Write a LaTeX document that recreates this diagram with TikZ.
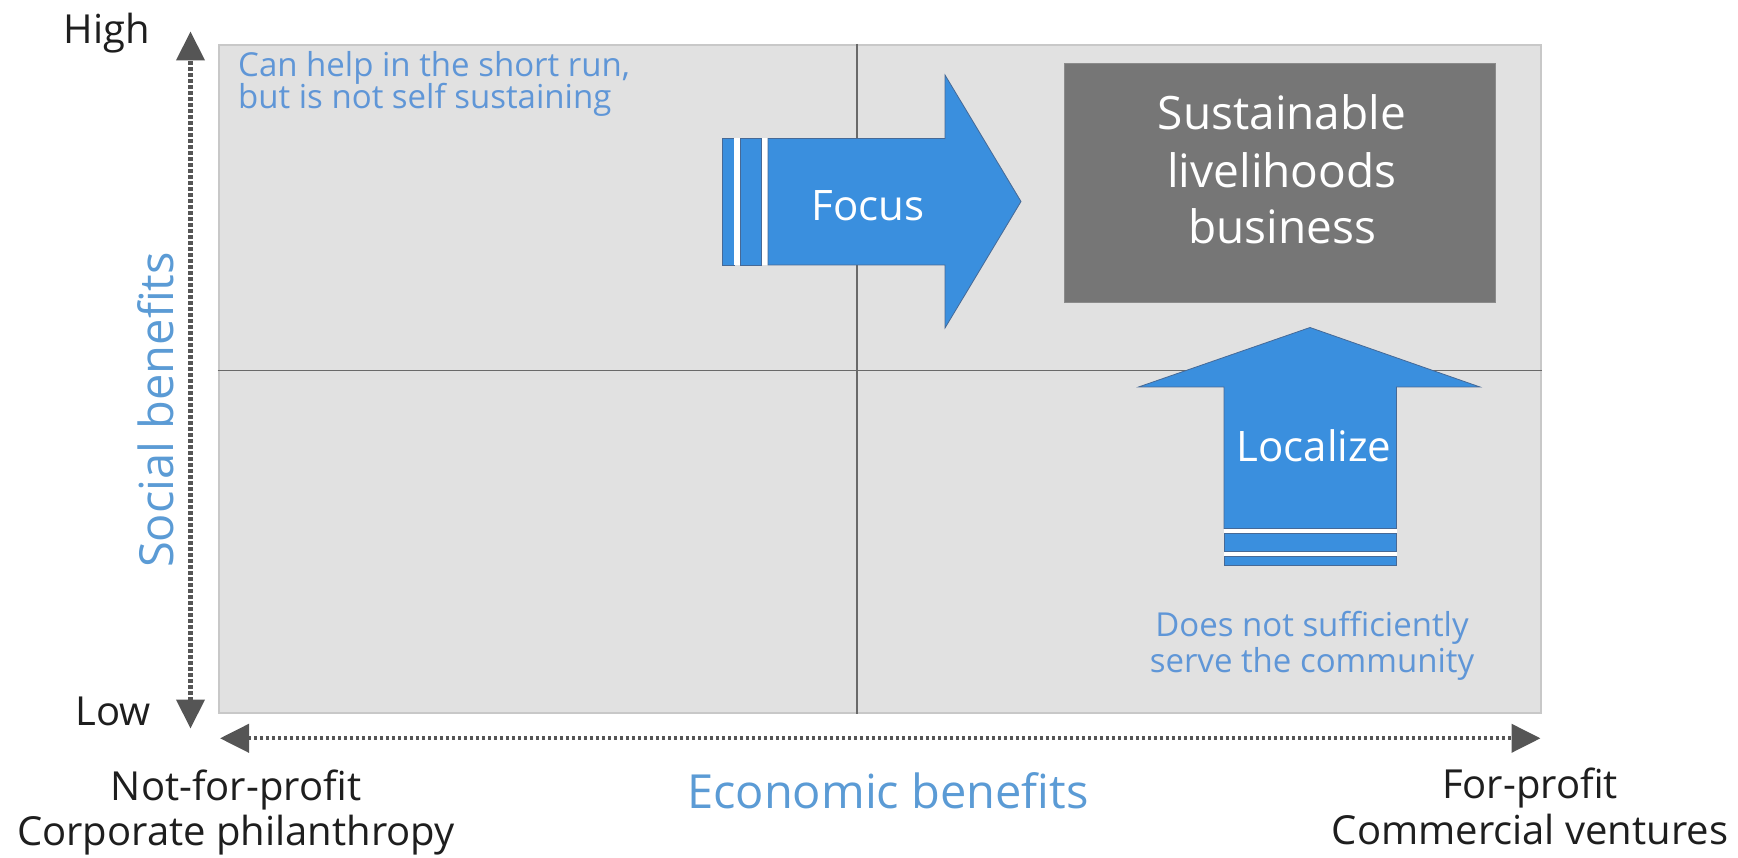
\documentclass[tikz,border=0pt]{standalone}
\usepackage{fontspec}
\setmainfont{Open Sans}
\usetikzlibrary{arrows.meta}
\definecolor{panelfill}{RGB}{225,225,225}
\definecolor{paneledge}{RGB}{200,200,200}
\definecolor{divcol}{RGB}{105,105,105}
\definecolor{axiscol}{RGB}{85,85,85}
\definecolor{bluefill}{RGB}{58,143,222}
\definecolor{blueedge}{RGB}{70,105,150}
\definecolor{graybox}{RGB}{118,118,118}
\definecolor{titleblue}{RGB}{91,155,213}
\definecolor{noteblue}{RGB}{95,150,215}
\definecolor{darktext}{RGB}{30,30,30}
\begin{document}
\begin{tikzpicture}[x=1pt,y=-1pt,
  panelbox/.style={rectangle, fill=panelfill, draw=paneledge, line width=2pt, inner sep=0pt},
  divider/.style={draw=divcol, line width=1.8pt},
  axisline/.style={draw=axiscol, line width=4.2pt, dash pattern=on 3.2pt off 2.8pt,
     {Triangle[length=29pt,width=28pt]}-{Triangle[length=29pt,width=28pt]}},
  bigarrow/.style={fill=bluefill, draw=blueedge, line width=0.8pt},
  gap/.style={fill=white},
  resultbox/.style={rectangle, fill=graybox, draw=graybox!85!white, line width=1pt, inner sep=0pt},
  endlabel/.style={inner sep=0pt, anchor=base, text=darktext, font=\fontsize{40}{44}\selectfont},
  axistitle/.style={inner sep=0pt, anchor=base, text=titleblue, font=\fontsize{47}{52}\selectfont},
  notetext/.style={inner sep=0pt, text=noteblue, font=\fontsize{33}{36}\selectfont},
  boxtext/.style={inner sep=0pt, anchor=base, text=white, font=\fontsize{46}{52}\selectfont},
  arrowtext/.style={inner sep=0pt, anchor=base, text=white, font=\fontsize{42}{46}\selectfont}
]
\useasboundingbox (0,0) rectangle (1738,858);
\fill[white] (0,0) rectangle (1738,858);

% panel and quadrant dividers
\node[panelbox, minimum width=1322pt, minimum height=667.5pt] (panel) at (879.5,378.75) {};
\coordinate (vd) at (857.3,0);
\coordinate (hd) at (0,370.5);
\draw[divider] (panel.north -| vd) -- (panel.south -| vd);
\draw[divider] (panel.west |- hd) -- (panel.east |- hd);

% axes
\coordinate (vtop) at (190.5,31.5);
\coordinate (vbot) at (190.5,728.5);
\coordinate (hleft) at (220,738.3);
\coordinate (hright) at (1540.5,738.3);
\draw[axisline] (vbot) -- (vtop);
\draw[axisline] (hleft) -- (hright);

% axis labels
\node[endlabel] (high) at (106.7,43.3) {High};
\node[endlabel] (low) at (113.3,725) {Low};
\node[endlabel] (nfp) at (236,800) {Not-for-profit};
\node[endlabel] (corp) at (236,845) {Corporate philanthropy};
\node[endlabel] (fp) at (1530,798) {For-profit};
\node[endlabel] (comm) at (1530,844) {Commercial ventures};
\node[axistitle] (econ) at (888,808) {Economic benefits};
\node[axistitle, rotate=90] (social) at (173,410) {Social benefits};

% notes
\node[notetext, anchor=base west] (note1a) at (238,77) {Can help in the short run,};
\node[notetext, anchor=base west] (note1b) at (238,109) {but is not self sustaining};
\node[notetext, anchor=base] (note2a) at (1312,636) {Does not sufficiently};
\node[notetext, anchor=base] (note2b) at (1312,672) {serve the community};

% result box
\node[resultbox, minimum width=431.5pt, minimum height=238.5pt] (result) at (1279.75,183.25) {};
\node[boxtext] (res1) at (1282,130) {Sustainable};
\node[boxtext] (res2) at (1282,188) {livelihoods};
\node[boxtext] (res3) at (1282,244) {business};

% Focus arrow (striped right arrow)
\fill[bigarrow] (722.5,138.5) rectangle (734,265);
\fill[gap] (734,138.5) rectangle (740,265);
\fill[bigarrow] (740,138.5) rectangle (761.5,265);
\fill[gap] (761.5,138.5) rectangle (768,265);
\fill[bigarrow] (768,138.5) -- (945,138.5) -- (945,75) -- (1021,201.5) -- (945,328) -- (945,265) -- (768,265) -- cycle;
\node[arrowtext] (focus) at (868,220.5) {Focus};

% Localize arrow (striped up arrow)
\fill[bigarrow] (1224,528.5) -- (1224,387) -- (1138.5,387) -- (1310,327.5) -- (1480,387) -- (1396.5,387) -- (1396.5,528.5) -- cycle;
\fill[gap] (1224,528.5) rectangle (1396.5,533.5);
\fill[bigarrow] (1224,533.5) rectangle (1396.5,551.5);
\fill[gap] (1224,551.5) rectangle (1396.5,556.5);
\fill[bigarrow] (1224,556.5) rectangle (1396.5,565.5);
\node[arrowtext] (localize) at (1314,461) {Localize};
\end{tikzpicture}
\end{document}
